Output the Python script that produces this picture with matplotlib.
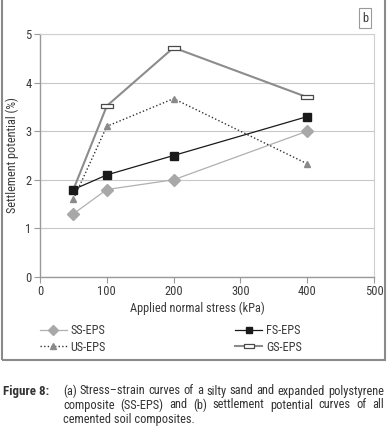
import matplotlib
matplotlib.use("Agg")
import matplotlib.pyplot as plt
from matplotlib import font_manager
from matplotlib.path import Path
from matplotlib.patches import Rectangle

# ---- data ----
stress = [50, 100, 200, 400]
ss_eps = [1.3, 1.8, 2.0, 3.0]
fs_eps = [1.8, 2.1, 2.5, 3.3]
us_eps = [1.6, 3.1, 3.67, 2.33]
gs_eps = [1.8, 3.52, 4.72, 3.7]
x_ticks = [0, 100, 200, 300, 400, 500]
y_ticks = [0, 1, 2, 3, 4, 5]
x_label = "Applied normal stress (kPa)"
y_label = "Settlement potential (%)"
series_names = ["SS-EPS", "US-EPS", "FS-EPS", "GS-EPS"]
panel_tag = "b"
caption_head = "Figure 8:"
caption_lines = [
    "(a) Stress\u2013strain curves of a silty sand and expanded polystyrene",
    "composite (SS-EPS) and (b) settlement potential curves of all",
    "cemented soil composites.",
]

# ---- font ----
def pick(fams):
    for f in fams:
        try:
            font_manager.findfont(font_manager.FontProperties(family=f), fallback_to_default=False)
            return f
        except Exception:
            pass
    return "DejaVu Sans"

FONT = pick(["Liberation Sans Narrow", "Roboto Condensed", "Open Sans Condensed", "DejaVu Sans"])
plt.rcParams["font.family"] = [FONT, "DejaVu Sans"]

W, H = 387, 430
fig = plt.figure(figsize=(W / 100, H / 100), dpi=100)
TXT = "#3a3a3a"

def fx(px):
    return px / W

def fy(py):
    return 1 - py / H

# outer frame
fig.patches.append(Rectangle((fx(1.5), fy(360)), fx(383), fy(-5) - fy(360), transform=fig.transFigure,
                             fill=False, edgecolor="#8a8a8a", lw=1.5, clip_on=True))

ax = fig.add_axes([fx(40), fy(277), fx(374) - fx(40), fy(34) - fy(277)])
ax.set_xlim(0, 500)
ax.set_ylim(0, 5)
ax.set_xticks(x_ticks)
ax.set_yticks(y_ticks)
ax.tick_params(axis="both", direction="out", length=4, width=0.8, color="#9a9a9a",
               labelsize=9, labelcolor=TXT, pad=2)
ax.grid(axis="y", color="#c8c8c8", lw=0.8)
ax.set_axisbelow(True)
for s in ["left", "bottom"]:
    ax.spines[s].set_color("#9a9a9a")
    ax.spines[s].set_linewidth(1.0)
for s in ["right", "top"]:
    ax.spines[s].set_color("#cfcfcf")
    ax.spines[s].set_linewidth(0.8)

rect_marker = Path([(-1, -0.38), (1, -0.38), (1, 0.38), (-1, 0.38), (-1, -0.38)],
                   [Path.MOVETO, Path.LINETO, Path.LINETO, Path.LINETO, Path.CLOSEPOLY])

l_ss, = ax.plot(stress, ss_eps, color="#b0b0b0", lw=0.9, marker="D", ms=6.5,
                mfc="#a8a8a8", mec="#a8a8a8", zorder=3)
l_us, = ax.plot(stress, us_eps, color="#333333", lw=1.0, ls=(0, (1, 1.6)), marker="^", ms=5,
                mfc="#8a8a8a", mec="#8a8a8a", zorder=4)
l_gs, = ax.plot(stress, gs_eps, color="#8c8c8c", lw=1.5, marker=rect_marker, ms=8.5,
                mfc="white", mec="#4a4a4a", mew=0.9, zorder=5, markevery=[1, 2, 3])
l_fs, = ax.plot(stress, fs_eps, color="#1a1a1a", lw=0.9, marker="s", ms=6.2,
                mfc="#1a1a1a", mec="#1a1a1a", zorder=6)

fig.text(fx(12), fy(155), y_label, rotation=90, ha="center", va="center", fontsize=8.8, color=TXT)
fig.text(fx(197), fy(308), x_label, ha="center", va="center", fontsize=8.8, color=TXT)

fig.legend([l_ss, l_us, l_fs, l_gs], series_names, ncol=2, loc="upper left",
           bbox_to_anchor=(fx(40), fy(324)), frameon=False, fontsize=8.8,
           handlelength=2.2, handletextpad=0.3, columnspacing=10.6, labelspacing=0.3,
           borderpad=0, borderaxespad=0, labelcolor=TXT, markerscale=0.8)

fig.text(fx(365), fy(18), panel_tag, ha="center", va="center", fontsize=9, color=TXT,
         bbox=dict(boxstyle="square,pad=0.25", fc="white", ec="#9a9a9a", lw=0.8))

# caption
CAP = 8.9
fig.text(fx(3), fy(391), caption_head, ha="left", va="center", fontsize=9.4, fontweight="bold", color="#333333")
fig.canvas.draw()
renderer = fig.canvas.get_renderer()
x0, x1 = 63, 384
line_y = [391, 405, 419]
for i, (line, yy) in enumerate(zip(caption_lines, line_y)):
    words = line.split(" ")
    if i == len(caption_lines) - 1:
        fig.text(fx(x0), fy(yy), line, ha="left", va="center", fontsize=CAP, color="#333333")
        continue
    objs = [fig.text(0, fy(yy), w, ha="left", va="center", fontsize=CAP, color="#333333") for w in words]
    widths = [o.get_window_extent(renderer).width for o in objs]
    gap = (x1 - x0 - sum(widths)) / (len(words) - 1)
    cur = x0
    for o, wd in zip(objs, widths):
        o.set_x(fx(cur))
        cur += wd + gap

fig.savefig("out.png", dpi=100)
